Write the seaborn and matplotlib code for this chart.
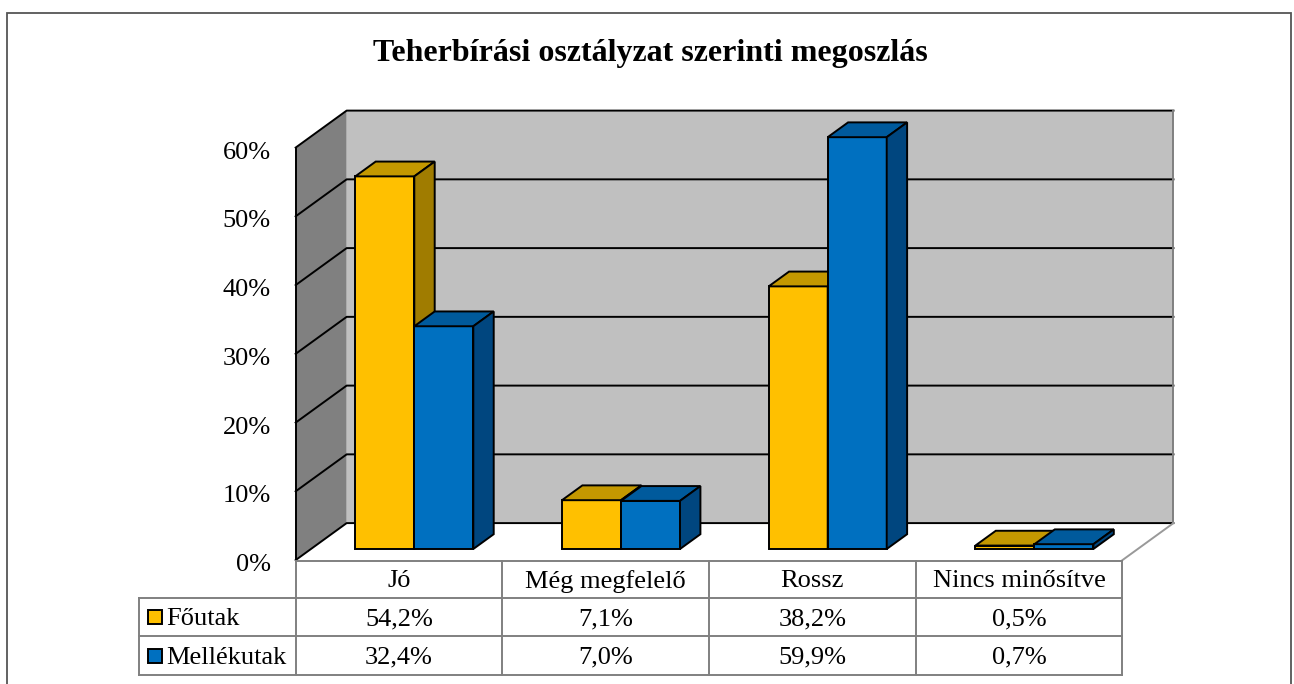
import pandas as pd
import matplotlib
matplotlib.use("Agg")
import matplotlib.pyplot as plt
from matplotlib.patches import Polygon, Rectangle
import seaborn as sns

title = "Teherbírási osztályzat szerinti megoszlás"
categories = ["Jó", "Még megfelelő", "Rossz", "Nincs minősítve"]
series = ["Főutak", "Mellékutak"]
foutak = [54.2, 7.1, 38.2, 0.5]
mellekutak = [32.4, 7.0, 59.9, 0.7]
yticks = [0, 10, 20, 30, 40, 50, 60]

df = pd.DataFrame({
    "cat": categories * 2,
    "series": [series[0]] * len(categories) + [series[1]] * len(categories),
    "val": foutak + mellekutak,
})

front_cols = ["#FFC000", "#0070C0"]
top_cols = ["#C49800", "#005A9C"]
side_cols = ["#A07C00", "#00467F"]

plt.rcParams["font.family"] = ["Liberation Serif", "DejaVu Serif"]

W, H = 1294, 684
fig = plt.figure(figsize=(W / 100, H / 100), dpi=100)
ax = fig.add_axes([0, 0, 1, 1])

# front face of category i centred at pixel CX + CW*i, 0% at pixel row Y0
CX, CW = 414.3, 206.7
Y0, YS = 549.0, 6.875


def px(p):
    return (p - CX) / CW


def py(p):
    return (Y0 - p) / YS


DX, DY = 51 / CW, 37 / YS   # full depth of the 3d box
D0 = 0.3                    # depth of the bars' front faces
BD = 0.4                    # bar depth


def P(u, h, d):
    return (u + DX * (d - D0), h + DY * (d - D0))


lw = 1.4

# walls and floor
ymax = yticks[-1]
left, right = -0.5, len(categories) - 0.5
ax.add_patch(Polygon([P(left, 0, 0), P(left, ymax, 0), P(left, ymax, 1), P(left, 0, 1)],
                     fc="#808080", ec="none", zorder=0))
ax.add_patch(Polygon([P(left, 0, 1), P(left, ymax, 1), P(right, ymax, 1), P(right, 0, 1)],
                     fc="#C0C0C0", ec="none", zorder=0))
ax.add_patch(Polygon([P(left, 0, 0), P(left, 0, 1), P(right, 0, 1), P(right, 0, 0)],
                     fc="white", ec="none", zorder=0))
for t in yticks:
    ax.plot(*zip(P(left, t, 0), P(left, t, 1), P(right, t, 1)), color="black", lw=lw, zorder=1)
ax.plot(*zip(P(left, 0, 0), P(left, ymax, 0)), color="black", lw=lw, zorder=1)
ax.plot(*zip(P(right, 0, 1), P(right, ymax, 1)), color="#808080", lw=lw, zorder=1)
ax.plot(*zip(P(right, 0, 1), P(right, 0, 0)), color="#999999", lw=lw, zorder=1)

# bars
n0 = len(ax.patches)
sns.barplot(data=df, x="cat", y="val", hue="series", palette=front_cols, saturation=1,
            width=0.571, edgecolor="black", linewidth=lw, legend=False, ax=ax)
bars = ax.patches[n0:]
dx, dy = DX * BD, DY * BD
for p in bars:
    x0, w, top = p.get_x(), p.get_width(), p.get_height()
    x1 = x0 + w
    c = x0 + w / 2
    h = 0 if c < round(c) else 1
    p.set_zorder(3 + 2 * h)
    ax.add_patch(Polygon([(x0, top), (x1, top), (x1 + dx, top + dy), (x0 + dx, top + dy)],
                         fc=top_cols[h], ec="black", lw=lw, zorder=3.5 + 2 * h))
    ax.add_patch(Polygon([(x1, 0), (x1, top), (x1 + dx, top + dy), (x1 + dx, dy)],
                         fc=side_cols[h], ec="black", lw=lw, zorder=3.5 + 2 * h))

ax.set_xlim(-CX / CW, (W - CX) / CW)
ax.set_ylim((Y0 - H) / YS, Y0 / YS)
ax.axis("off")

fs = 19
# y tick labels
for t in yticks:
    ax.text(px(271), P(left, t, 0)[1] - 5 / YS, f"{t}%", ha="right", va="center", fontsize=fs)

# data table
tc = "#808080"
rows = [py(560.5), py(598), py(636), py(675)]
cols = [P(left + k, 0, 0)[0] for k in range(len(categories) + 1)]
leg_l = px(139)
ax.plot([cols[0], cols[-1]], [rows[0], rows[0]], color=tc, lw=lw, zorder=1)
for r in rows[1:]:
    ax.plot([leg_l, cols[-1]], [r, r], color=tc, lw=lw, zorder=1)
for cx in cols:
    ax.plot([cx, cx], [rows[0], rows[-1]], color=tc, lw=lw, zorder=1)
ax.plot([leg_l, leg_l], [rows[1], rows[-1]], color=tc, lw=lw, zorder=1)

for k, cat in enumerate(categories):
    cc = (cols[k] + cols[k + 1]) / 2
    ax.text(cc, (rows[0] + rows[1]) / 2 - 2 / YS, cat, ha="center", va="center", fontsize=fs)
    for j, vals in enumerate([foutak, mellekutak]):
        ax.text(cc, (rows[j + 1] + rows[j + 2]) / 2 - 2 / YS, f"{vals[k]:.1f}%".replace(".", ","),
                ha="center", va="center", fontsize=fs)

for j, name in enumerate(series):
    rc = (rows[j + 1] + rows[j + 2]) / 2
    ax.add_patch(Rectangle((px(148), rc - 7 / YS), 14 / CW, 14 / YS,
                           fc=front_cols[j], ec="black", lw=lw, zorder=2))
    ax.text(px(166), rc - 2 / YS, name, ha="left", va="center", fontsize=fs)

ax.text(px(650), py(54), title, ha="center", va="center", fontsize=23, fontweight="bold")

# outer frame
ax.add_patch(Rectangle((px(7), py(700)), (1291 - 7) / CW, (700 - 13) / YS,
                       fc="none", ec="#555555", lw=1.3, zorder=0, clip_on=False))

fig.savefig("out.png", dpi=100)
